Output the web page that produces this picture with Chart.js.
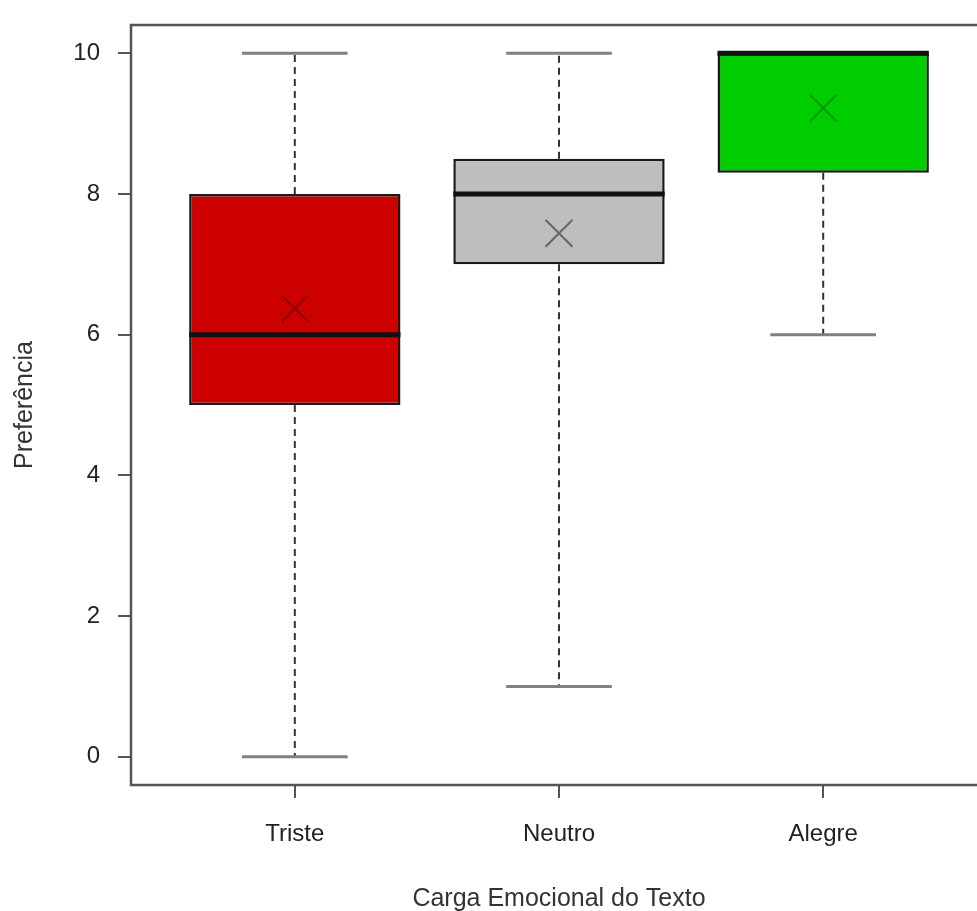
<!DOCTYPE html>
<html>
<head>
<meta charset="utf-8">
<title>Preferência por carga emocional</title>
<script src="https://cdn.jsdelivr.net/npm/chart.js@4/dist/chart.umd.min.js"></script>
<style>
  html, body { margin: 0; padding: 0; background: #fff; overflow: hidden; }
  #boxChart { display: block; }
</style>
</head>
<body>
<canvas id="boxChart" width="990" height="911"></canvas>
<script>
// data
const categories = ['Triste', 'Neutro', 'Alegre'];
const whiskerLow = [0, 1, 6];
const q1 = [5, 7, 8.3];
const median = [6, 8, 10];
const q3 = [8, 8.5, 10];
const whiskerHigh = [10, 10, 10];
const means = [6.37, 7.44, 9.22];
const yTicks = [0, 2, 4, 6, 8, 10];

const boxColors = ['#cd0000', '#bebebe', '#00cd00'];
const markColors = ['rgba(90,0,0,0.55)', 'rgba(40,40,40,0.6)', 'rgba(0,90,0,0.45)'];

const fontFamily = "'Liberation Sans', Arial, sans-serif";

// whiskers, staples, medians and the frame drawn with the chart's own scales
const boxplotExtras = {
    id: 'boxplotExtras',
    beforeDatasetsDraw(chart) {
        const { ctx, scales: { x, y } } = chart;
        ctx.save();
        for (let i = 0; i < categories.length; i++) {
            const cx = x.getPixelForValue(i + 1);
            // dashed whiskers
            ctx.strokeStyle = '#333';
            ctx.lineWidth = 2;
            ctx.setLineDash([7, 5]);
            ctx.beginPath();
            ctx.moveTo(cx, y.getPixelForValue(q3[i]));
            ctx.lineTo(cx, y.getPixelForValue(whiskerHigh[i]));
            ctx.moveTo(cx, y.getPixelForValue(q1[i]));
            ctx.lineTo(cx, y.getPixelForValue(whiskerLow[i]));
            ctx.stroke();
            // staples
            ctx.setLineDash([]);
            ctx.strokeStyle = '#808080';
            ctx.lineWidth = 3;
            ctx.beginPath();
            ctx.moveTo(x.getPixelForValue(i + 1 - 0.2), y.getPixelForValue(whiskerHigh[i]));
            ctx.lineTo(x.getPixelForValue(i + 1 + 0.2), y.getPixelForValue(whiskerHigh[i]));
            ctx.moveTo(x.getPixelForValue(i + 1 - 0.2), y.getPixelForValue(whiskerLow[i]));
            ctx.lineTo(x.getPixelForValue(i + 1 + 0.2), y.getPixelForValue(whiskerLow[i]));
            ctx.stroke();
        }
        ctx.restore();
    },
    afterDatasetsDraw(chart) {
        const { ctx, chartArea, scales: { x, y } } = chart;
        ctx.save();
        ctx.strokeStyle = '#111';
        ctx.lineWidth = 5;
        for (let i = 0; i < categories.length; i++) {
            const yy = y.getPixelForValue(median[i]);
            ctx.beginPath();
            ctx.moveTo(x.getPixelForValue(i + 1 - 0.4), yy);
            ctx.lineTo(x.getPixelForValue(i + 1 + 0.4), yy);
            ctx.stroke();
        }
        // plot frame
        ctx.strokeStyle = '#555';
        ctx.lineWidth = 2.5;
        ctx.strokeRect(chartArea.left, chartArea.top, chartArea.right - chartArea.left, chartArea.bottom - chartArea.top);
        ctx.restore();
    }
};

const ctx = document.getElementById('boxChart').getContext('2d');
new Chart(ctx, {
    type: 'bar',
    data: {
        datasets: [
            {
                type: 'scatter',
                data: means.map((m, i) => ({ x: i + 1, y: m })),
                pointStyle: 'crossRot',
                pointRadius: 19,
                pointBorderWidth: 2,
                pointBorderColor: markColors,
                pointBackgroundColor: 'transparent',
                order: 0
            },
            {
                data: categories.map((c, i) => ({ x: i + 1, y: [q1[i], q3[i]] })),
                backgroundColor: boxColors,
                borderColor: '#1a1a1a',
                borderWidth: 2.5,
                borderSkipped: false,
                categoryPercentage: 1,
                barPercentage: 0.8,
                order: 1
            }
        ]
    },
    options: {
        responsive: false,
        animation: false,
        layout: { autoPadding: false, padding: { left: 9, top: 25, right: 3, bottom: 0 } },
        plugins: {
            legend: { display: false },
            tooltip: { enabled: false }
        },
        scales: {
            x: {
                type: 'linear',
                offset: false,
                min: 0.38,
                max: 3.62,
                afterBuildTicks: (scale) => {
                    scale.ticks = categories.map((c, i) => ({ value: i + 1 }));
                },
                afterFit: (scale) => {
                    scale.height = 126;
                    scale.paddingLeft = 0;
                    scale.paddingRight = 0;
                },
                ticks: {
                    callback: (v) => categories[v - 1],
                    color: '#222',
                    font: { family: fontFamily, size: 24 },
                    padding: 22,
                    maxRotation: 0,
                    autoSkip: false
                },
                grid: { offset: false, drawOnChartArea: false, drawTicks: true, tickLength: 13, color: '#555', lineWidth: 2 },
                border: { display: false },
                title: {
                    display: true,
                    text: 'Carga Emocional do Texto',
                    color: '#333',
                    font: { family: fontFamily, size: 25 },
                    padding: { bottom: -3 }
                }
            },
            y: {
                type: 'linear',
                min: -0.4,
                max: 10.4,
                afterBuildTicks: (scale) => {
                    scale.ticks = yTicks.map(v => ({ value: v }));
                },
                afterFit: (scale) => {
                    scale.width = 122;
                    scale.paddingTop = 0;
                    scale.paddingBottom = 0;
                },
                ticks: {
                    color: '#222',
                    font: { family: fontFamily, size: 24 },
                    padding: 18
                },
                grid: { drawOnChartArea: false, drawTicks: true, tickLength: 13, color: '#555', lineWidth: 2 },
                border: { display: false },
                title: {
                    display: true,
                    text: 'Preferência',
                    color: '#333',
                    font: { family: fontFamily, size: 25 },
                    padding: { top: 1 }
                }
            }
        }
    },
    plugins: [boxplotExtras]
});
</script>
</body>
</html>
